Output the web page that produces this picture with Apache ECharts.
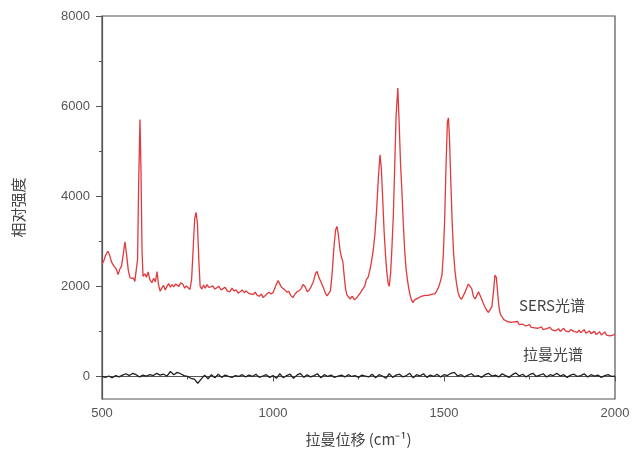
<!DOCTYPE html>
<html lang="zh">
<head>
    <meta charset="UTF-8"/>
    <title>SERS</title>
    <script src="https://cdn.jsdelivr.net/npm/echarts@6/dist/echarts.min.js"></script>
</head>
<body style="margin:0">
<div id="main" style="width:643px;height:459px"></div>

<script type="text/javascript">
    // SERS 光谱 (拉曼位移, 强度)
    var sersShift = [500, 505, 510, 517, 522, 527, 532, 537, 542, 547, 552, 557, 562, 567, 572, 577, 582, 587, 592, 596,
        600, 604, 607, 611, 614, 617, 620, 625, 630, 635, 640, 646, 651, 656, 661, 665, 670, 675, 680, 685,
        690, 695, 700, 705, 710, 715, 719, 725, 730, 737, 742, 747, 752, 757, 762, 767, 771, 775, 779, 783,
        787, 792, 797, 802, 807, 812, 818, 824, 830, 836, 842, 848, 854, 860, 866, 874, 880, 886, 892, 898,
        904, 910, 916, 922, 928, 934, 942, 948, 954, 960, 966, 971, 976, 982, 988, 994, 1000, 1005, 1010, 1015,
        1020, 1025, 1030, 1035, 1040, 1046, 1052, 1058, 1064, 1070, 1076, 1082, 1088, 1094, 1100, 1106, 1112, 1118, 1124, 1129,
        1134, 1139, 1143, 1148, 1153, 1158, 1163, 1168, 1173, 1178, 1183, 1187, 1191, 1196, 1200, 1204, 1208, 1212, 1216, 1220,
        1226, 1232, 1238, 1244, 1250, 1256, 1262, 1268, 1273, 1278, 1283, 1288, 1293, 1298, 1303, 1308, 1313, 1317, 1321, 1325,
        1329, 1333, 1337, 1340, 1344, 1348, 1352, 1356, 1360, 1365, 1369, 1373, 1377, 1381, 1385, 1389, 1393, 1397, 1401, 1405,
        1409, 1414, 1419, 1424, 1429, 1434, 1439, 1444, 1449, 1454, 1459, 1464, 1469, 1474, 1479, 1484, 1489, 1494, 1498, 1502,
        1506, 1510, 1513, 1516, 1520, 1524, 1528, 1532, 1536, 1541, 1546, 1551, 1556, 1561, 1566, 1571, 1576, 1581, 1586, 1591,
        1596, 1601, 1605, 1610, 1615, 1620, 1625, 1630, 1635, 1640, 1645, 1649, 1653, 1657, 1661, 1665, 1670, 1675, 1680, 1685,
        1690, 1695, 1700, 1705, 1710, 1715, 1720, 1725, 1730, 1735, 1740, 1745, 1750, 1755, 1760, 1765, 1770, 1775, 1780, 1785,
        1790, 1795, 1800, 1805, 1810, 1815, 1820, 1825, 1830, 1835, 1840, 1845, 1850, 1855, 1860, 1865, 1870, 1875, 1880, 1885,
        1890, 1895, 1900, 1905, 1910, 1915, 1920, 1925, 1930, 1935, 1940, 1945, 1950, 1955, 1960, 1965, 1970, 1975, 1980, 1985,
        1990, 1995, 2000];
    var sersValue = [2500, 2560, 2680, 2780, 2700, 2560, 2480, 2520, 2380, 2260, 2380, 2450, 2700, 2990, 2700, 2350, 2190, 2150, 2180, 2110,
        2150, 2600, 4200, 5700, 4600, 2800, 2220, 2280, 2200, 2320, 2150, 2080, 2180, 2100, 2330, 2050, 1890, 1960, 2020, 1920,
        2000, 2060, 1980, 2040, 1990, 2050, 2040, 2000, 2080, 2040, 1960, 2010, 1980, 1930, 2150, 2900, 3500, 3640, 3400, 2600,
        2000, 1940, 2030, 1960, 2040, 1980, 1990, 2010, 1940, 1970, 2000, 1920, 1950, 1980, 1900, 1880, 1960, 1900, 1920, 1850,
        1880, 1920, 1860, 1900, 1850, 1830, 1820, 1870, 1800, 1780, 1830, 1750, 1790, 1830, 1870, 1830, 1860, 1950, 2050, 2130,
        2050, 1980, 2010, 1920, 1870, 1890, 1800, 1750, 1820, 1880, 1900, 1950, 2040, 1990, 1880, 1920, 2000, 2100, 2280, 2330,
        2200, 2120, 2080, 1960, 1850, 1790, 1780, 1900, 2300, 2850, 3250, 3330, 3150, 2800, 2650, 2560, 2250, 1950, 1810, 1770,
        1720, 1780, 1700, 1740, 1800, 1860, 1940, 2000, 2150, 2200, 2350, 2550, 2800, 3150, 3700, 4400, 4920, 4600, 3900, 3200,
        2700, 2300, 2050, 2000, 2300, 2900, 3600, 4700, 5800, 6400, 5600, 4700, 4100, 3400, 2800, 2400, 2150, 1950, 1800, 1700,
        1640, 1700, 1660, 1740, 1710, 1780, 1760, 1800, 1780, 1800, 1780, 1820, 1810, 1840, 1900, 1980, 2100, 2250, 2700, 3500,
        4700, 5650, 5740, 5300, 4300, 3400, 2750, 2350, 2100, 1870, 1760, 1710, 1750, 1860, 1960, 2050, 2090, 1950, 1780, 1720,
        1800, 1880, 1850, 1720, 1620, 1540, 1470, 1420, 1380, 1550, 1900, 2250, 2200, 1850, 1520, 1380, 1320, 1260, 1240, 1220,
        1230, 1200, 1240, 1210, 1200, 1220, 1150, 1180, 1160, 1190, 1120, 1110, 1150, 1090, 1130, 1080, 1110, 1070, 1090, 1100,
        1040, 1080, 1060, 1020, 1090, 1040, 1070, 1010, 1050, 1060, 1000, 1040, 1070, 1010, 1050, 990, 1040, 1060, 1000, 1020,
        980, 1030, 970, 1000, 1040, 960, 990, 1010, 950, 980, 1000, 930, 970, 990, 920, 960, 990, 920, 950, 900,
        940, 920, 940];

    // 拉曼光谱
    var ramanShift = [500, 510, 520, 530, 540, 550, 560, 570, 580, 590, 600, 610, 620, 630, 640, 650, 660, 670, 680, 690,
        700, 710, 720, 730, 740, 750, 760, 770, 780, 790, 800, 810, 820, 830, 840, 850, 860, 870, 880, 890,
        900, 910, 920, 930, 940, 950, 960, 970, 980, 990, 1000, 1010, 1020, 1030, 1040, 1050, 1060, 1070, 1080, 1090,
        1100, 1110, 1120, 1130, 1140, 1150, 1160, 1170, 1180, 1190, 1200, 1210, 1220, 1230, 1240, 1250, 1260, 1270, 1280, 1290,
        1300, 1310, 1320, 1330, 1340, 1350, 1360, 1370, 1380, 1390, 1400, 1410, 1420, 1430, 1440, 1450, 1460, 1470, 1480, 1490,
        1500, 1510, 1520, 1530, 1540, 1550, 1560, 1570, 1580, 1590, 1600, 1610, 1620, 1630, 1640, 1650, 1660, 1670, 1680, 1690,
        1700, 1710, 1720, 1730, 1740, 1750, 1760, 1770, 1780, 1790, 1800, 1810, 1820, 1830, 1840, 1850, 1860, 1870, 1880, 1890,
        1900, 1910, 1920, 1930, 1940, 1950, 1960, 1970, 1980, 1990, 2000];
    var ramanValue = [0, -20, 10, -30, 20, -10, 30, 60, 20, 70, 40, -10, 30, 10, 40, 20, 70, 30, 50, 10,
        110, 40, 90, 60, 20, 0, -40, -60, -150, -60, 30, -50, 40, -30, 50, -20, 30, 0, -20, 20,
        0, 40, -10, 30, 0, 50, -20, 10, 40, -20, 20, -40, 60, -30, 20, 50, -40, 30, 70, -20,
        40, -10, 20, 60, -30, 40, 0, 30, -20, 10, 30, -10, 40, 0, 20, -20, 30, 10, -10, 50,
        -30, 40, 10, -40, 60, -20, 30, 50, -10, 20, 70, -30, 40, 10, 60, -20, 30, 0, 50, -10,
        40, 20, 70, 90, 10, 40, -10, 30, 60, 0, 20, -20, 40, 70, 10, 30, -10, 60, 20, -20,
        40, 80, 10, 50, -10, 40, 70, 0, 30, 60, -10, 40, 20, 70, 10, 40, -20, 30, 50, 0,
        20, 60, -10, 40, 10, 30, -20, 20, 40, 0, 10];

    var yLabelValues = [0, 2000, 4000, 6000, 8000];
    var yMinorValues = [1000, 3000, 5000, 7000];

    function pairs(xs, ys) {
        var out = [];
        for (var i = 0; i < xs.length; i++) {
            out.push([xs[i], ys[i]]);
        }
        return out;
    }

    function plain(v) {
        return String(v);
    }

    var myChart = echarts.init(document.getElementById('main'));
    var labelStyle = {color: '#555', fontSize: 13, fontFamily: 'Arial', formatter: plain};
    var option = {
        backgroundColor: '#fff',
        animation: false,
        grid: {left: 102, right: 28, top: 16, bottom: 60, show: true, borderColor: '#555', borderWidth: 1.2},
        xAxis: {
            type: 'value',
            min: 500,
            max: 2000,
            interval: 500,
            name: '拉曼位移 (cm⁻¹)',
            nameLocation: 'middle',
            nameGap: 33,
            nameTextStyle: {color: '#444', fontSize: 15, fontFamily: 'Noto Sans CJK SC'},
            axisLine: {lineStyle: {color: '#555', width: 1.2}},
            axisTick: {length: 5, lineStyle: {color: '#555'}},
            minorTick: {show: true, splitNumber: 2, length: 3, lineStyle: {color: '#555'}},
            axisLabel: Object.assign({margin: 8}, labelStyle),
            splitLine: {show: false}
        },
        yAxis: [{
            type: 'value',
            min: -500,
            max: 8000,
            position: 'left',
            name: '相对强度',
            nameLocation: 'middle',
            nameGap: 76,
            nameTextStyle: {color: '#444', fontSize: 15, fontFamily: 'Noto Sans CJK SC'},
            axisLine: {show: true, lineStyle: {color: '#555', width: 1.2}},
            axisTick: {show: true, length: 6, customValues: yLabelValues, lineStyle: {color: '#555'}},
            axisLabel: Object.assign({margin: 12, customValues: yLabelValues}, labelStyle),
            splitLine: {show: false}
        }, {
            type: 'value',
            min: -500,
            max: 8000,
            position: 'left',
            offset: 0,
            axisLine: {show: false},
            axisTick: {show: true, length: 3, customValues: yMinorValues, lineStyle: {color: '#555'}},
            axisLabel: {show: false},
            splitLine: {show: false}
        }],
        graphic: [
            {type: 'text', left: 519, top: 298, style: {text: 'SERS光谱', fill: '#444', fontSize: 15, fontFamily: 'Noto Sans CJK SC'}},
            {type: 'text', left: 523, top: 347, style: {text: '拉曼光谱', fill: '#444', fontSize: 15, fontFamily: 'Noto Sans CJK SC'}}
        ],
        series: [{
            name: 'SERS光谱',
            type: 'line',
            data: pairs(sersShift, sersValue),
            showSymbol: false,
            lineStyle: {color: '#e2393d', width: 1.3},
            z: 3
        }, {
            name: '拉曼光谱',
            type: 'line',
            data: pairs(ramanShift, ramanValue),
            showSymbol: false,
            lineStyle: {color: '#222', width: 1.3},
            z: 2
        }]
    };
    myChart.setOption(option);
</script>
</body>
</html>
